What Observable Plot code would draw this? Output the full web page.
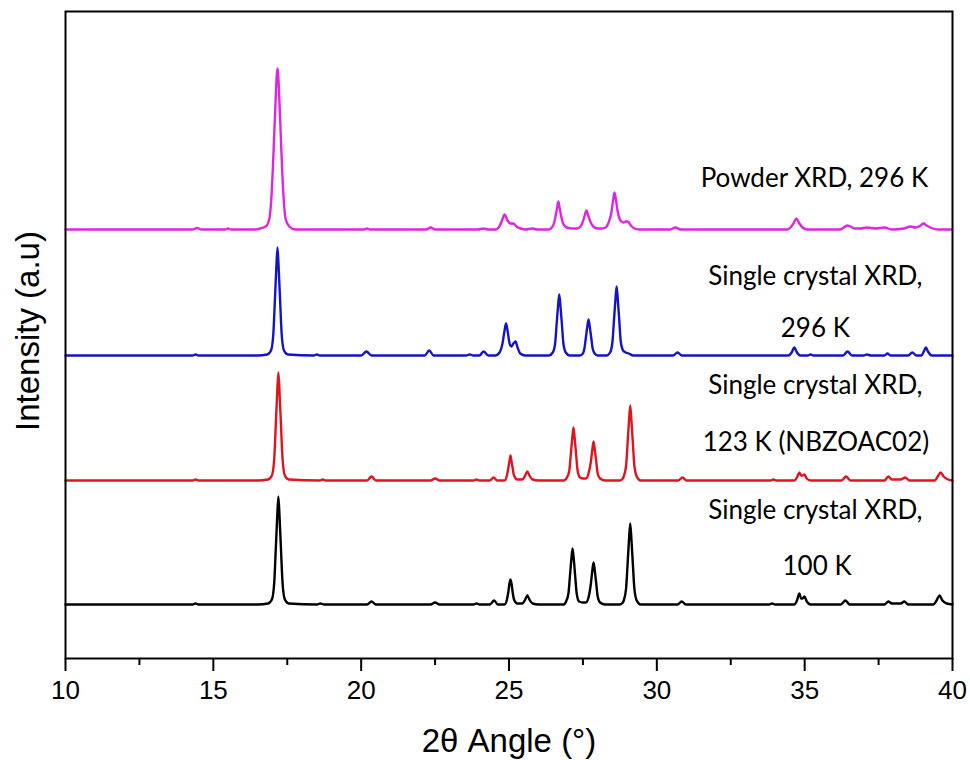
<!DOCTYPE html>
<html><head><meta charset="utf-8">
<script src="https://cdn.jsdelivr.net/npm/d3@7"></script>
<script src="https://cdn.jsdelivr.net/npm/@observablehq/plot@0.6"></script>
<style>body{margin:0;background:#fff}</style>
</head><body><div id="chart"></div>
<script>
const seriesNames = ["Powder XRD, 296 K", "Single crystal XRD, 296 K", "Single crystal XRD, 123 K (NBZOAC02)", "Single crystal XRD, 100 K"];
const seriesColors = ["#e024e0", "#1414c4", "#e0141e", "#000000"];
const seriesOffsets = [429, 303, 178, 54];

// [2θ, intensity above the trace's own baseline]
const powder296 = [[10,0],[14.3,0],[14.45,1.5],[14.6,0],[15.4,0],[15.5,1],[15.6,0],[16.45,0],[16.57,1],[16.77,3],[16.89,10],[16.97,35],[17.04,80],[17.1,125],[17.17,161],[17.24,125],[17.3,80],[17.37,35],[17.45,10],[17.57,3],[17.77,0],[20.1,0],[20.2,1],[20.3,0],[22.2,0],[22.35,2],[22.5,0],[23.95,0],[24.14,1],[24.3,0],[24.55,0],[24.65,2],[24.75,8],[24.85,15],[24.95,9],[25.05,6],[25.15,6],[25.25,3],[25.4,1],[25.55,0],[25.8,1],[25.95,0],[26.35,0],[26.45,2],[26.52,6],[26.58,14],[26.63,22],[26.67,28],[26.71,22],[26.76,14],[26.83,6],[26.95,2],[27.15,1],[27.3,1],[27.42,3],[27.5,8],[27.56,14],[27.62,19],[27.68,14],[27.75,8],[27.85,3],[28.0,1],[28.15,1],[28.27,2],[28.37,7],[28.47,18],[28.52,29],[28.57,37],[28.62,29],[28.67,19],[28.77,9],[28.87,7],[28.95,8],[29.02,8],[29.12,4],[29.25,1],[29.4,0],[30.45,0],[30.63,2],[30.8,0],[34.4,0],[34.52,2],[34.62,6],[34.72,11],[34.82,6],[34.93,2],[35.1,0],[36.2,0],[36.45,4],[36.7,1],[36.9,1],[37.1,2],[37.4,1],[37.7,2],[37.95,0],[38.35,1],[38.58,3],[38.75,2],[38.92,4],[39.02,6],[39.12,4],[39.25,2],[39.5,0],[40,0]];

const crystal296 = [[10,0],[14.3,0],[14.4,1],[14.5,0],[16.5,0],[16.82,1],[16.95,5],[17.03,22],[17.08,54],[17.125,84],[17.17,108],[17.215,84],[17.26,54],[17.31,22],[17.39,5],[17.52,1],[18.4,0],[18.5,1],[18.6,0],[20.0,0],[20.18,4],[20.35,0],[22.15,0],[22.3,5],[22.45,0],[23.55,0],[23.67,1],[23.8,0],[24.0,0],[24.14,4],[24.3,0],[24.55,0],[24.68,3],[24.78,12],[24.85,25],[24.9,32],[24.95,25],[25.02,12],[25.08,9],[25.15,12],[25.22,14],[25.29,8],[25.38,2],[25.55,0],[26.35,0],[26.48,3],[26.56,12],[26.61,31],[26.655,48],[26.7,61],[26.745,48],[26.79,31],[26.84,12],[26.92,3],[27.05,0],[27.4,0],[27.5,2],[27.55,7],[27.6,18],[27.645,28],[27.69,36],[27.735,28],[27.78,18],[27.83,7],[27.9,2],[28.0,0],[28.3,0],[28.42,3],[28.5,14],[28.55,35],[28.595,54],[28.64,69],[28.685,54],[28.73,35],[28.78,14],[28.86,5],[28.95,3],[29.05,2],[29.2,0],[30.55,0],[30.7,3],[30.85,0],[34.45,0],[34.56,3],[34.65,8],[34.74,3],[34.85,0],[35.1,0],[35.2,1],[35.3,0],[36.3,0],[36.45,4],[36.6,0],[37.0,0],[37.1,1],[37.25,0],[37.7,0],[37.8,2],[37.9,0],[38.5,0],[38.64,3],[38.78,0],[38.95,0],[39.03,4],[39.1,8],[39.17,4],[39.3,0],[40,0]];

const crystal123 = [[10,0],[14.3,0],[14.4,1],[14.5,0],[16.5,0],[16.85,1],[16.98,5],[17.06,22],[17.11,54],[17.155,84],[17.2,108],[17.245,84],[17.29,54],[17.34,22],[17.42,5],[17.55,1],[18.6,0],[18.7,1],[18.8,0],[20.2,0],[20.35,4],[20.5,0],[22.35,0],[22.5,2],[22.65,0],[23.8,0],[23.9,1],[24.0,0],[24.35,0],[24.48,3],[24.6,0],[24.85,0],[24.93,5],[24.98,13],[25.02,20],[25.05,25],[25.08,20],[25.12,13],[25.17,5],[25.28,1],[25.45,1],[25.53,4],[25.58,7],[25.62,9],[25.66,7],[25.71,4],[25.8,1],[26.0,0],[26.85,0],[26.96,3],[27.04,10],[27.09,26],[27.135,41],[27.18,53],[27.225,41],[27.27,26],[27.32,10],[27.4,3],[27.5,2],[27.6,2],[27.68,6],[27.77,19],[27.815,30],[27.86,39],[27.905,30],[27.95,19],[28.0,7],[28.08,2],[28.25,0],[28.75,0],[28.85,2],[28.88,4],[28.96,15],[29.01,37],[29.055,58],[29.1,75],[29.145,58],[29.19,37],[29.24,15],[29.32,4],[29.45,0],[30.72,0],[30.87,3],[31.0,0],[33.85,0],[33.94,1],[34.05,0],[34.65,0],[34.74,3],[34.82,8],[34.88,5],[34.93,5],[34.99,6],[35.07,2],[35.2,0],[36.25,0],[36.4,4],[36.55,0],[37.7,0],[37.83,4],[37.95,1],[38.25,1],[38.4,3],[38.55,0],[39.4,0],[39.5,4],[39.6,8],[39.7,4],[39.85,1],[40,0]];

const crystal100 = [[10,0],[14.3,0],[14.4,1],[14.5,0],[16.5,0],[16.85,1],[16.98,5],[17.06,22],[17.11,54],[17.155,84],[17.2,108],[17.245,84],[17.29,54],[17.34,22],[17.42,5],[17.55,1],[18.5,0],[18.62,1],[18.75,0],[20.2,0],[20.35,3],[20.5,0],[22.35,0],[22.5,2],[22.65,0],[23.8,0],[23.9,1],[24.0,0],[24.35,0],[24.5,4],[24.62,0],[24.85,0],[24.93,5],[24.98,13],[25.01,20],[25.05,25],[25.09,20],[25.12,13],[25.17,5],[25.28,1],[25.45,1],[25.53,4],[25.58,7],[25.62,9],[25.66,7],[25.71,4],[25.8,1],[26.0,0],[26.85,0],[26.93,3],[27.01,11],[27.06,28],[27.105,44],[27.15,56],[27.195,44],[27.24,28],[27.29,11],[27.37,3],[27.5,2],[27.6,2],[27.68,6],[27.77,21],[27.815,33],[27.86,42],[27.905,33],[27.95,21],[28.0,8],[28.08,2],[28.25,0],[28.75,0],[28.85,2],[28.88,4],[28.96,16],[29.01,40],[29.055,63],[29.1,81],[29.145,63],[29.19,40],[29.24,16],[29.32,4],[29.45,0],[30.7,0],[30.84,3],[30.98,0],[33.8,0],[33.9,1],[34.0,0],[34.65,0],[34.74,4],[34.82,11],[34.88,6],[34.93,6],[34.99,8],[35.07,3],[35.2,0],[36.22,0],[36.38,4],[36.52,0],[37.7,0],[37.83,3],[37.95,1],[38.25,1],[38.37,3],[38.5,0],[39.35,0],[39.46,4],[39.56,9],[39.66,4],[39.8,1],[40,0]];

const seriesPoints = [powder296, crystal296, crystal123, crystal100];

const xTicks = [10, 15, 20, 25, 30, 35, 40];
const xMinorTicks = [12.5, 17.5, 22.5, 27.5, 32.5, 37.5];

const labelTexts = ["Powder XRD, 296 K", "Single crystal XRD,", "296 K", "Single crystal XRD,", "123 K (NBZOAC02)", "Single crystal XRD,", "100 K"];
const labelX = [35.33, 35.36, 35.36, 35.36, 35.38, 35.36, 35.42];
const labelY = [480, 382, 330, 273, 216, 148, 92];

const data = [];
seriesPoints.forEach((pts, i) => pts.forEach(([x, v]) => data.push({series: seriesNames[i], x, y: v + seriesOffsets[i]})));
const labels = labelTexts.map((text, i) => ({text, x: labelX[i], y: labelY[i]}));

const chart = Plot.plot({
  width: 970, height: 760,
  marginTop: 11, marginRight: 18, marginBottom: 102, marginLeft: 65,
  x: {domain: [10, 40], label: null},
  y: {domain: [0, 647], axis: null, label: null},
  color: {domain: seriesNames, range: seriesColors},
  style: {fontFamily: "'Liberation Sans', Arial, sans-serif", background: "#fff", color: "#000", overflow: "visible"},
  marks: [
    Plot.lineY(data, {x: "x", y: "y", z: "series", stroke: "series", strokeWidth: 2.4, curve: "monotone-x"}),
    Plot.frame({stroke: "#000", strokeWidth: 2}),
    Plot.axisX(xTicks, {tickSize: 13, tickPadding: 9, fontSize: 26, strokeWidth: 2, label: null}),
    Plot.axisX(xMinorTicks, {tickSize: 7, strokeWidth: 2, tickFormat: () => "", label: null}),
    Plot.text(["2θ Angle (°)"], {frameAnchor: "bottom", dy: 93, fontSize: 33, fill: "#000"}),
    Plot.text(["Intensity (a.u)"], {frameAnchor: "left", textAnchor: "middle", dx: -37, dy: -4, rotate: -90, fontSize: 33, fill: "#000"}),
    Plot.text(labels, {x: "x", y: "y", text: "text", fontFamily: "Lato", fontSize: 26, fill: "#000"})
  ]
});
document.getElementById("chart").appendChild(chart);
</script>
</body></html>
